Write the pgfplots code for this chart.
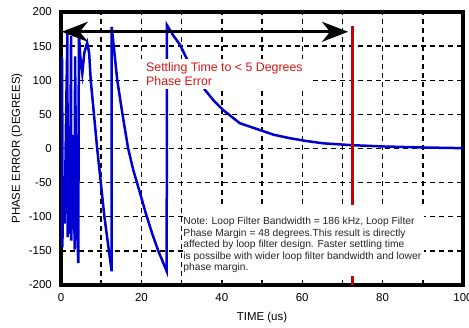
\documentclass[border=0pt]{standalone}
\usepackage{pgfplots}
\pgfplotsset{compat=1.18}
\usepackage{fontspec}
\setmainfont{Liberation Sans}
\usetikzlibrary{arrows.meta}
\definecolor{curveblue}{RGB}{0,0,210}
\definecolor{markred}{RGB}{200,0,0}
\definecolor{textred}{RGB}{220,20,20}
\begin{document}
\begin{tikzpicture}
\begin{axis}[name=ax, scale only axis, width=402bp, height=273bp,
  xmin=0, xmax=100, ymin=-200, ymax=200,
  xtick={0,20,...,100}, minor xtick={10,30,...,90},
  ytick={-200,-150,...,200},
  grid=both,
  major grid style={black, line width=1.4bp, dash pattern=on 5bp off 4bp},
  minor grid style={black, line width=1.4bp, dash pattern=on 5bp off 4bp},
  axis line style={line width=3.3bp},
  major tick length=0pt, minor tick length=0pt,
  /pgf/number format/assume math mode=true,
  ticklabel style={font=\fontsize{11.5}{13}\selectfont, inner sep=0pt},
  xticklabel style={anchor=north, yshift=-8bp},
  yticklabel style={anchor=east, xshift=-9bp},
  xlabel={TIME (us)}, ylabel={PHASE ERROR (DEGREES)},
  label style={font=\fontsize{11.5}{13}\selectfont},
  xlabel style={at={(axis description cs:0.5,-0.1209)}, anchor=center},
  ylabel style={at={(axis description cs:-0.1095,0.5)}, anchor=center},
]
\addplot[curveblue, line width=2.5bp] coordinates {
(0,135) (0.30,130) (0.34,-145) (0.6,-40) (0.9,-110) (1.3,60) (1.6,170)
(1.65,-130) (1.9,-60) (2.2,-125) (2.5,165) (2.55,-135) (2.8,-70) (3.1,20)
(3.4,-148) (3.5,135) (3.7,0) (3.9,-100) (4.3,-168) (4.45,170) (4.8,135)
(5.3,110) (5.8,140) (6.5,155) (7.0,140) (7.4,100) (9.0,0) (10.8,-100)
(12.6,-180) (12.62,178) (14.0,100) (15.3,50) (16.7,0) (18.0,-32) (19.5,-62)
(21.1,-95) (22.7,-125) (24.2,-150) (26.3,-180) (26.32,181) (28,165)
(29.6,152) (31,135) (33,113) (35.8,86) (38,70) (40.4,56) (44.5,37)
(49.5,27) (53,20) (57,15) (61,11) (65.2,7.6) (72,5) (80,3) (90,1.5) (100,0.5)
};
\addplot[markred, line width=3bp] coordinates {(72.4,-200) (72.4,179.5)};
\addplot[black, line width=2.6bp, arrows={Stealth[length=26bp,width=20bp,inset=8bp]-Stealth[length=26bp,width=20bp,inset=8bp]}] coordinates {(0.2,171) (71.4,171)};
\node[fill=white, text=textred, align=left, anchor=west, inner xsep=6bp, inner ysep=3bp,
  font=\fontsize{12.4}{14.3}\selectfont] at (axis cs:19.65,109.3)
  {Settling Time to < 5 Degrees\\Phase Error};
\fill[white] (axis cs:30.3,-82.8) rectangle (axis cs:90.3,-186.8);
\node[anchor=north west, align=left, inner sep=0pt, text=black!85,
  font=\fontsize{10.3}{11.5}\selectfont] at (axis cs:30.4,-100.4)
  {Note: Loop Filter Bandwidth = 186 kHz, Loop Filter\\
   Phase Margin = 48 degrees.This result is directly\\
   affected by loop filter design. Faster settling time\\
   is possilbe with wider loop filter bandwidth and lower\\
   phase margin.};
\end{axis}
\pgfresetboundingbox
\useasboundingbox ([shift={(-61bp,-43bp)}]ax.south west) rectangle ([shift={(6bp,12bp)}]ax.north east);
\end{tikzpicture}
\end{document}
